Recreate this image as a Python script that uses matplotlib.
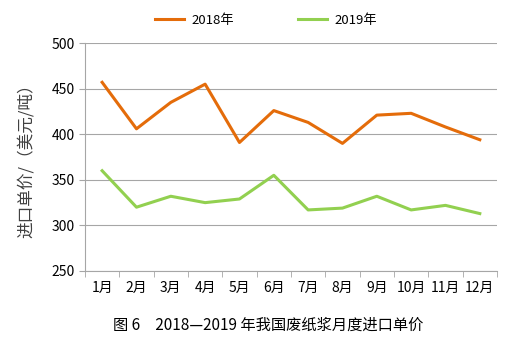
import numpy as np
import matplotlib.pyplot as plt

plt.rcParams['font.family'] = ['Noto Sans CJK SC', 'DejaVu Sans']

months = ['1月', '2月', '3月', '4月', '5月', '6月', '7月', '8月', '9月', '10月', '11月', '12月']
price_2018 = [457, 406, 435, 455, 391, 426, 413, 390, 421, 423, 408, 394]
price_2019 = [360, 320, 332, 325, 329, 355, 317, 319, 332, 317, 322, 313]

fig = plt.figure(figsize=(5.15, 3.45), dpi=100)
ax = fig.add_axes([0.165, 0.2145, 0.8, 0.6605])

x = np.arange(len(months))
ax.plot(x, price_2018, color='#E46C0A', lw=2.2, label='2018年')
ax.plot(x, price_2019, color='#92D050', lw=2.2, label='2019年')

ax.set_xlim(-0.5, len(months) - 0.5)
ax.set_ylim(250, 500)
ax.set_yticks(range(250, 501, 50))
ax.yaxis.grid(True, color='#A6A6A6', lw=0.8)
ax.set_axisbelow(True)

# category ticks sit between the months
ax.set_xticks(x)
ax.set_xticklabels(months, fontsize=10)
ax.set_xticks(np.arange(-0.5, len(months)), minor=True)
ax.tick_params(axis='x', which='major', length=0, pad=7)
ax.tick_params(axis='x', which='minor', length=4, color='#A6A6A6')
ax.tick_params(axis='y', length=4, color='#A6A6A6', labelsize=10)

for side in ['top', 'right']:
    ax.spines[side].set_visible(False)
for side in ['left', 'bottom']:
    ax.spines[side].set_color('#A6A6A6')

ax.set_ylabel('进口单价/（美元/吨）', fontsize=12, color='#404040', labelpad=12)

ax.legend(loc='lower center', bbox_to_anchor=(0.44, 1.02), ncol=2, frameon=False,
          fontsize=9.5, handlelength=2.2, handletextpad=0.6, columnspacing=4.8)

fig.text(0.52, 0.045, '图 6　2018—2019 年我国废纸浆月度进口单价', ha='center', fontsize=11)

fig.savefig('out.png', dpi=100)
